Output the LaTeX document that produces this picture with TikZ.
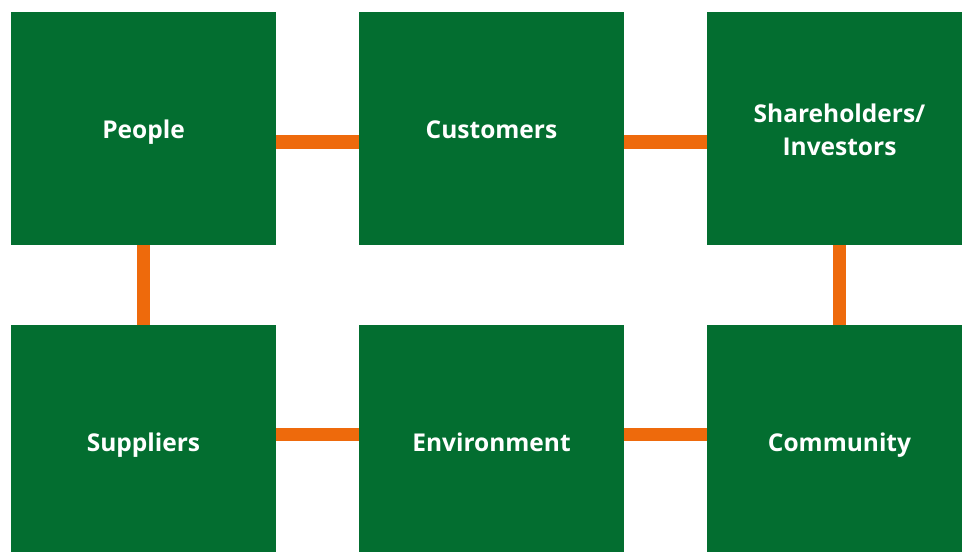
\documentclass[tikz,border=0pt]{standalone}
\usepackage{fontspec}
\setmainfont{Open Sans}
\definecolor{boxgreen}{RGB}{3,110,48}
\definecolor{linkorange}{RGB}{238,106,12}
\newcommand\tstrut{\rule[-9.9pt]{0pt}{40.3pt}}
\newcommand\topstrut{\rule{0pt}{30.4pt}}
\newcommand\botstrut{\rule[-9.9pt]{0pt}{9.9pt}}
\begin{document}
\begin{tikzpicture}[x=1pt,y=-1pt,
  stakebox/.style={rectangle, fill=boxgreen, draw=none, inner sep=0pt,
    minimum width=265pt, minimum height=233pt, text=white, align=center,
    font=\fontsize{24.5}{33}\selectfont\bfseries},
  link/.style={draw=linkorange, line width=13.5pt}]
\useasboundingbox (0,0) rectangle (962,552);
\begin{scope}
\clip (0,0) rectangle (962,552);
\node[stakebox] (people) at (143.5,128.5) {\tstrut People};
\node[stakebox] (customers) at (491.5,128.5) {\tstrut Customers};
\node[stakebox] (share) at (839.5,128.5) {\topstrut Shareholders/\\\botstrut Investors};
\node[stakebox] (suppliers) at (143.5,441.5) {\tstrut Suppliers};
\node[stakebox] (environment) at (491.5,441.5) {\tstrut Environment};
\node[stakebox] (community) at (839.5,441.5) {\tstrut Community};
\draw[link] ([yshift=-13.5pt]people.east) -- ([yshift=-13.5pt]customers.west);
\draw[link] ([yshift=-13.5pt]customers.east) -- ([yshift=-13.5pt]share.west);
\draw[link] ([yshift=7pt]suppliers.east) -- ([yshift=7pt]environment.west);
\draw[link] ([yshift=7pt]environment.east) -- ([yshift=7pt]community.west);
\draw[link] (people.south) -- (suppliers.north);
\draw[link] (share.south) -- (community.north);
\end{scope}
\end{tikzpicture}
\end{document}
